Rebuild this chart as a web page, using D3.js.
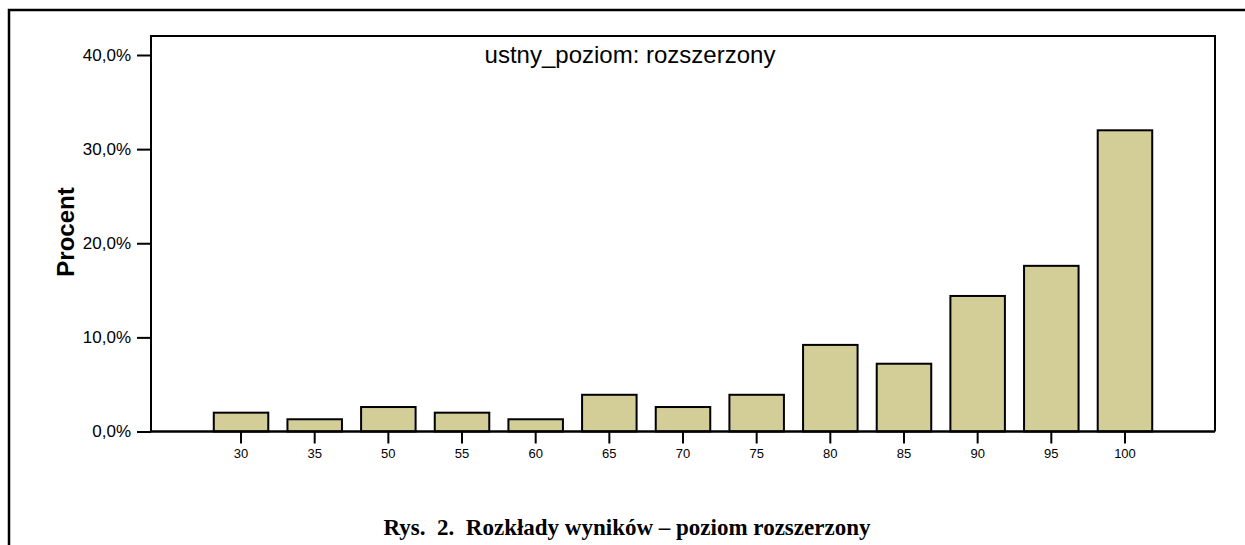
<!DOCTYPE html>
<html>
<head>
<meta charset="utf-8">
<script src="https://cdn.jsdelivr.net/npm/d3@7"></script>
<style>
	body { margin: 0; background: #fff; }
	svg { display: block; }
	text { font-family: Arial, "Liberation Sans", sans-serif; fill: #000; }
</style>
</head>
<body>
<div id="chart"></div>
<script>
// wyniki (procent) dla kolejnych progów punktowych
var categories = ["30", "35", "50", "55", "60", "65", "70", "75", "80", "85", "90", "95", "100"];
var percents = [2.0, 1.3, 2.6, 2.0, 1.3, 3.9, 2.6, 3.9, 9.2, 7.2, 14.4, 17.6, 32.0];
var yTicks = [0, 10, 20, 30, 40];

var chartTitle = "ustny_poziom: rozszerzony",
	yLabel = "Procent",
	caption = "Rys.  2.  Rozkłady wyników – poziom rozszerzony";

(function() {
	var width = 1245,
		height = 545;
	var plot = { left: 151, top: 36, right: 1215, bottom: 431.5 };

	var svg = d3.select("#chart")
		.append("svg")
		.attr("width", width)
		.attr("height", height);

	// ramka strony
	svg.append("path")
		.attr("d", "M9," + height + "V10H" + width)
		.attr("fill", "none")
		.attr("stroke", "#000")
		.attr("stroke-width", 2.5);

	var x = d3.scaleBand()
		.domain(categories)
		.range([204.2, 1161.8])
		.paddingInner(0.26)
		.paddingOuter(0.13);

	var y = d3.scaleLinear()
		.domain([0, 40])
		.range([plot.bottom, 55]);

	// słupki
	svg.append("g")
		.selectAll("rect")
		.data(percents)
		.join("rect")
		.attr("x", (d, i) => x(categories[i]))
		.attr("y", d => y(d))
		.attr("width", x.bandwidth())
		.attr("height", d => y(0) - y(d))
		.attr("fill", "#d3ce98")
		.attr("stroke", "#000")
		.attr("stroke-width", 2);

	// obramowanie wykresu (góra, lewo, prawo)
	svg.append("path")
		.attr("d", "M" + plot.left + "," + plot.bottom + "V" + plot.top + "H" + plot.right + "V" + plot.bottom)
		.attr("fill", "none")
		.attr("stroke", "#000")
		.attr("stroke-width", 2);

	var yAxis = svg.append("g")
		.attr("transform", "translate(" + plot.left + ",0)")
		.call(d3.axisLeft(y)
			.tickValues(yTicks)
			.tickSize(14)
			.tickPadding(6)
			.tickFormat(d => d.toFixed(1).replace(".", ",") + "%"));
	yAxis.select(".domain").remove();
	yAxis.selectAll("line").attr("stroke", "#000").attr("stroke-width", 2);
	yAxis.selectAll("text")
		.style("font-size", "17px")
		.style("font-family", "Arial, 'Liberation Sans', sans-serif")
		.attr("fill", "#000");

	var xAxis = svg.append("g")
		.attr("transform", "translate(0," + plot.bottom + ")")
		.call(d3.axisBottom(x)
			.tickSize(12)
			.tickPadding(5)
			.tickSizeOuter(0));
	xAxis.select(".domain")
		.attr("d", "M" + plot.left + ",0H" + plot.right)
		.attr("stroke", "#000")
		.attr("stroke-width", 2.5);
	xAxis.selectAll("line").attr("stroke", "#000").attr("stroke-width", 2);
	xAxis.selectAll("text")
		.style("font-size", "13px")
		.style("font-family", "Arial, 'Liberation Sans', sans-serif")
		.attr("fill", "#000");

	svg.append("text")
		.attr("x", 630)
		.attr("y", 63)
		.attr("text-anchor", "middle")
		.style("font-size", "24px")
		.text(chartTitle);

	svg.append("text")
		.attr("transform", "translate(74,232) rotate(-90)")
		.attr("text-anchor", "middle")
		.style("font-size", "24px")
		.style("font-weight", "bold")
		.text(yLabel);

	svg.append("text")
		.attr("x", 627)
		.attr("y", 535)
		.attr("text-anchor", "middle")
		.style("font-family", "'Liberation Serif', 'Times New Roman', serif")
		.style("font-size", "23px")
		.style("font-weight", "bold")
		.style("white-space", "pre")
		.text(caption);
})();
</script>
</body>
</html>
